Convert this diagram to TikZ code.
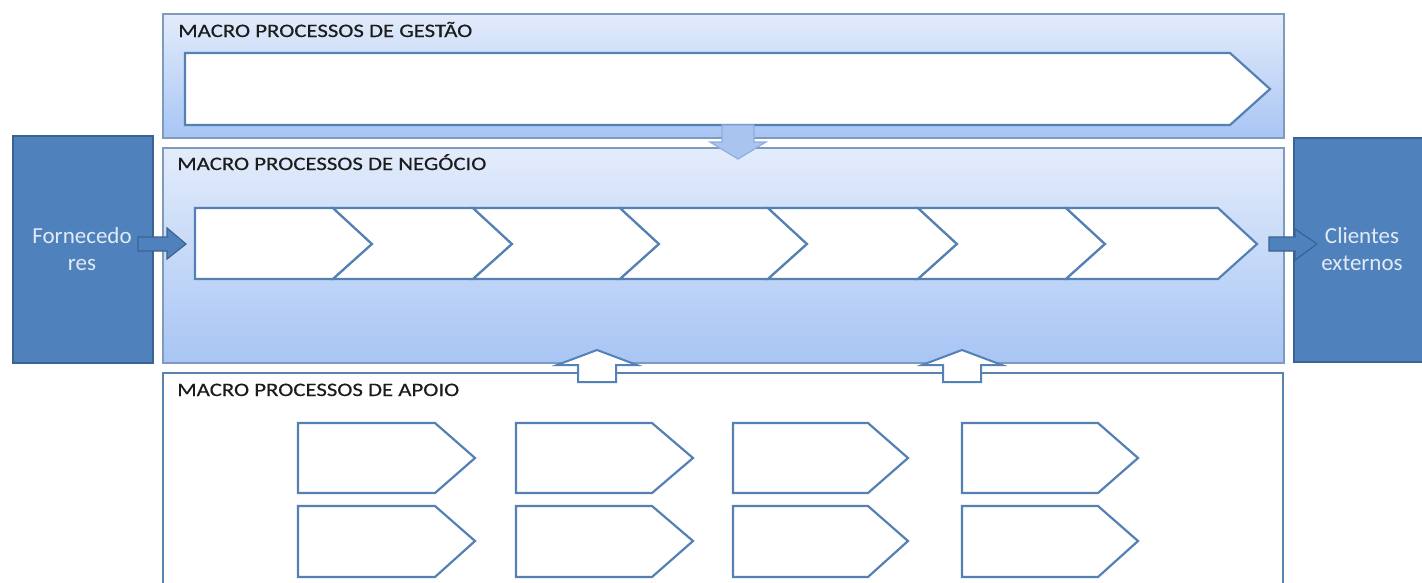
\documentclass[tikz,border=0pt]{standalone}
\usepackage{fontspec}
\setmainfont{Carlito}
\newfontfamily\hdrfont{Carlito}[FakeStretch=1.2, FakeBold=0.4]
\definecolor{boxline}{HTML}{7E9BBE}
\definecolor{gradtop}{HTML}{E3ECFB}
\definecolor{gradbot}{HTML}{A8C5F4}
\definecolor{chevline}{HTML}{5580B4}
\definecolor{apoioline}{HTML}{5A82AE}
\definecolor{darkfill}{HTML}{4F81BD}
\definecolor{darkline}{HTML}{3B6391}
\definecolor{lighttext}{HTML}{E2EAF5}
\definecolor{hdrtext}{HTML}{1C1C1C}
\definecolor{downfill}{HTML}{A9C4EF}
\definecolor{downline}{HTML}{8CAEE0}
\definecolor{upline}{HTML}{5582B6}
\begin{document}
\begin{tikzpicture}[x=1pt,y=-1pt,
  gradbox/.style={draw=boxline, line width=1.6pt, top color=gradtop, bottom color=gradbot, inner sep=0pt, anchor=north west},
  whitebox/.style={draw=apoioline, line width=2.2pt, fill=white, inner sep=0pt, anchor=north west},
  chev/.style={draw=chevline, fill=white, line width=2.2pt, line join=miter},
  hdr/.style={anchor=base west, inner sep=0pt, font=\hdrfont\fontsize{19}{22}\selectfont, text=hdrtext},
  darkbox/.style={draw=darkline, fill=darkfill, line width=1.6pt, inner sep=0pt, anchor=north west},
  sidetext/.style={text=lighttext, align=center, font=\fontsize{23}{27}\selectfont, inner sep=0pt},
  darkarrow/.style={draw=darkline, fill=darkfill, line width=1.2pt},
  uparrow/.style={draw=upline, fill=white, line width=2pt},
  downarrow/.style={draw=downline, fill=downfill, line width=1.2pt}]
\clip (0,0) rectangle (1422,582);
\useasboundingbox (0,0) rectangle (1422,582);

% Gestao box
\node[gradbox, minimum width=1121pt, minimum height=124pt] (gestao) at (162,13) {};
\node[hdr] (tgestao) at (178,37) {MACRO PROCESSOS DE GESTÃO};
\draw[chev] (185,53) -- (1230,53) -- (1270,89) -- (1230,125) -- (185,125) -- cycle;

% Negocio box
\node[gradbox, minimum width=1121pt, minimum height=215pt] (negocio) at (162,147) {};
\node[hdr] (tnegocio) at (177,170) {MACRO PROCESSOS DE NEGÓCIO};

% chevrons
\draw[chev] (195,208) -- (333,208) -- (372,244) -- (333,279) -- (195,279) -- cycle;
\foreach \a/\b in {333/473, 473/620, 620/768, 768/918, 918/1066, 1066/1218} {
  \draw[chev] (\a,208) -- (\b,208) -- (\b+39,244) -- (\b,279) -- (\a,279) -- (\a+39,244) -- cycle;
}

% down arrow
\draw[downarrow] (722,125) -- (754,125) -- (754,142) -- (766,142) -- (738,159) -- (710,142) -- (722,142) -- cycle;

% Apoio box
\node[whitebox, minimum width=1120pt, minimum height=240pt] (apoio) at (162,372) {};
\node[hdr] (tapoio) at (177,396) {MACRO PROCESSOS DE APOIO};
\foreach \x/\e/\t in {298/435/475, 516/652/693, 733/868/908, 962/1098/1138} {
  \draw[chev] (\x,423) -- (\e,423) -- (\t,458) -- (\e,493) -- (\x,493) -- cycle;
  \draw[chev] (\x,506) -- (\e,506) -- (\t,541) -- (\e,577) -- (\x,577) -- cycle;
}

% up arrows
\foreach \c in {597, 962} {
  \draw[uparrow] (\c-19,382) -- (\c+19,382) -- (\c+19,365) -- (\c+40,365) -- (\c,350) -- (\c-40,365) -- (\c-19,365) -- cycle;
}

% side boxes
\node[darkbox, minimum width=140pt, minimum height=227pt] (forn) at (12,135) {};
\node[sidetext] (tforn) at (82,249) {Fornecedo\\res};
\node[darkbox, minimum width=140pt, minimum height=224pt] (cli) at (1293,137) {};
\node[sidetext] (tcli) at (1362,249) {Clientes\\externos};

% side arrows
\draw[darkarrow] (138,237) -- (167,237) -- (167,228) -- (186,244) -- (167,259) -- (167,251) -- (138,251) -- cycle;
\draw[darkarrow] (1269,237) -- (1295,237) -- (1295,229) -- (1317,244) -- (1295,260) -- (1295,251) -- (1269,251) -- cycle;
\end{tikzpicture}
\end{document}
